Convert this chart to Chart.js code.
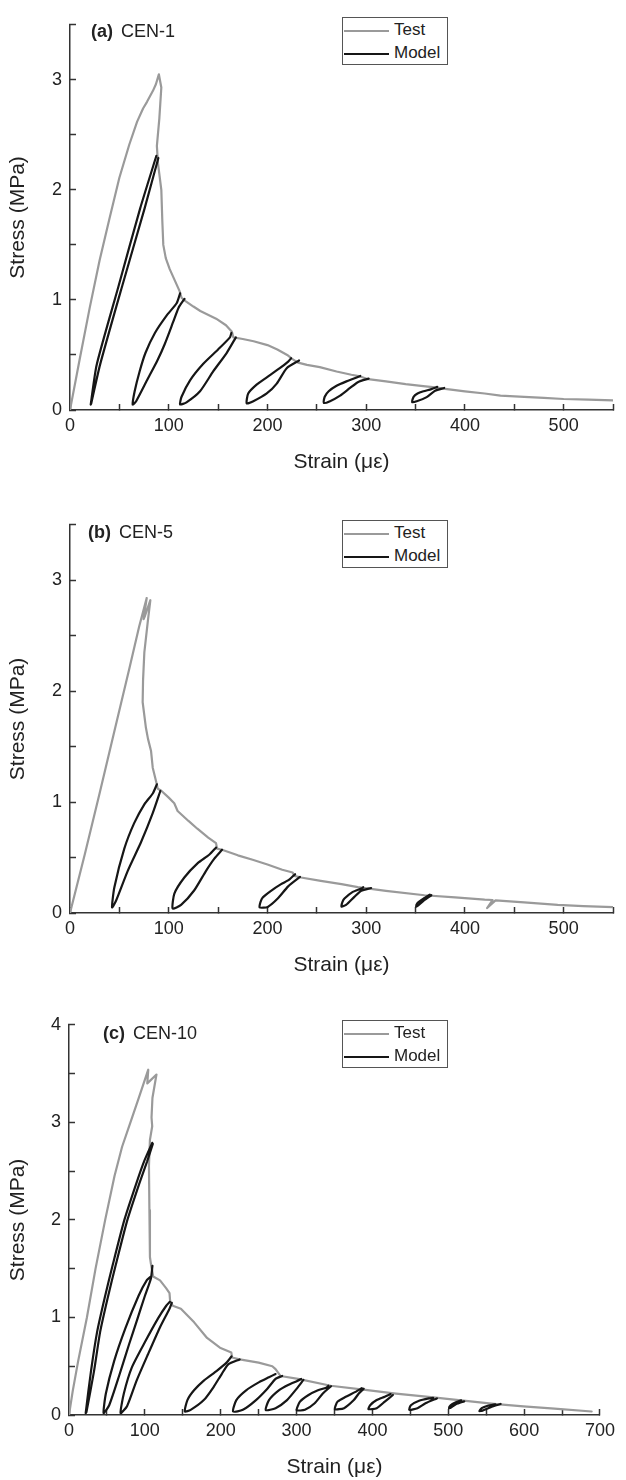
<!DOCTYPE html>
<html>
<head>
<meta charset="utf-8">
<script src="https://cdn.jsdelivr.net/npm/chart.js@4.4.1/dist/chart.umd.min.js"></script>
<style>
html,body{margin:0;padding:0;background:#fff;width:626px;height:1480px;overflow:hidden;font-family:"Liberation Sans",Arial,sans-serif;}
.panel{position:absolute;left:0;width:626px;}
.panel canvas{display:block;}
.lbl{position:absolute;font-size:18px;line-height:18px;color:#222;white-space:nowrap;}
.lbl b{font-weight:bold;}
.lbl span{margin-left:8px;}
.leg{position:absolute;width:104px;height:46px;border:1px solid #555;background:#fff;}
.leg .ln{position:absolute;left:1px;width:45px;height:2px;}
.leg .tx{position:absolute;left:51px;font-size:17px;line-height:20px;color:#222;white-space:nowrap;}
</style>
</head>
<body>
<script>
// ---------- names / ticks ----------
const seriesNames = ['Test', 'Model'];
const panelTags = ['(a)', '(b)', '(c)'];
const specimenNames = ['CEN-1', 'CEN-5', 'CEN-10'];
const xTitle = 'Strain (\u03bc\u03b5)';
const yTitle = 'Stress (MPa)';
const xTickLabelsAB = [0, 100, 200, 300, 400, 500];
const yTickLabelsAB = [0, 1, 2, 3];
const xTickLabelsC = [0, 100, 200, 300, 400, 500, 600, 700];
const yTickLabelsC = [0, 1, 2, 3, 4];

// ---------- panel (a) CEN-1 ----------
const testA = [[0,0],[10,0.47],[20,0.93],[30,1.36],[40,1.74],[50,2.11],[60,2.41],[68,2.62],[74,2.74],[78,2.80],[84,2.90],[87,2.96],[90,3.05],[92.5,2.93],[90.5,2.65],[88,2.40],[89,2.25],[92.5,2.0],[93.5,1.72],[94.5,1.50],[97,1.38],[101,1.28],[106,1.18],[111,1.08],[113,1.02],[117,0.99],[125,0.94],[132,0.90],[148,0.83],[158,0.77],[164,0.71],[165.5,0.66],[175,0.645],[186,0.625],[200,0.59],[210,0.55],[220,0.50],[225,0.465],[231,0.43],[240,0.41],[253,0.39],[270,0.35],[285,0.32],[294,0.305],[302,0.28],[320,0.26],[340,0.235],[360,0.215],[370,0.205],[378,0.195],[400,0.17],[420,0.15],[436,0.13],[460,0.12],[480,0.11],[500,0.10],[525,0.095],[550,0.087]];
const modelA1 = [[89.5,2.29],[75.5,1.83],[52,1.10],[30.4,0.41],[21.5,0.06],[21,0.05],[27,0.41],[49,1.12],[71,1.83],[87.5,2.31]];
const modelA2 = [[116,1.01],[110,0.93],[104.5,0.80],[96,0.60],[88.5,0.45],[78,0.27],[67,0.08],[63.5,0.05],[65.5,0.17],[70.5,0.35],[76.5,0.52],[86,0.70],[98,0.86],[108,0.97],[111.5,1.06]];
const modelA3 = [[168,0.66],[158.8,0.52],[145,0.35],[131.7,0.17],[118,0.07],[111.5,0.05],[113,0.12],[121.6,0.27],[135,0.42],[150,0.55],[162,0.66],[163.5,0.70]];
const modelA4 = [[232,0.45],[219.5,0.38],[209.4,0.24],[199.3,0.15],[185.7,0.08],[179,0.06],[180.5,0.15],[189,0.23],[199,0.295],[212.5,0.38],[221,0.44],[224,0.47]];
const modelA5 = [[302.5,0.285],[292,0.255],[283.7,0.20],[273.6,0.13],[263.4,0.08],[257,0.065],[258,0.12],[262,0.17],[270,0.22],[280,0.26],[289,0.29],[294,0.31]];
const modelA6 = [[379,0.20],[369.8,0.175],[361.3,0.117],[351.2,0.079],[346.5,0.072],[348,0.12],[352,0.15],[358,0.17],[366,0.19],[372,0.21]];

// ---------- panel (b) CEN-5 ----------
const testB = [[0,0],[15,0.53],[30,1.08],[45,1.64],[60,2.20],[70,2.58],[77.7,2.84],[74.6,2.65],[76,2.68],[81.4,2.82],[78.7,2.62],[75.3,2.35],[74,2.10],[73.6,1.90],[76.9,1.67],[79,1.57],[82.1,1.46],[83.8,1.31],[87.1,1.19],[88.9,1.12],[92.2,1.105],[100,1.04],[105.6,0.99],[109,0.92],[120,0.83],[129,0.76],[140,0.68],[147.9,0.63],[149,0.58],[154.7,0.568],[170,0.52],[185,0.48],[200,0.437],[215,0.39],[225.5,0.365],[227.2,0.335],[234,0.32],[254,0.29],[275,0.26],[291.5,0.233],[320,0.20],[359,0.16],[390,0.14],[420,0.12],[428,0.117],[422.5,0.045],[431,0.114],[460,0.095],[494,0.073],[520,0.062],[551,0.052]];
const modelB1 = [[91.5,1.10],[83.8,0.90],[72,0.64],[58.5,0.38],[46.6,0.11],[42.6,0.05],[44.9,0.23],[55,0.58],[65,0.81],[75.3,0.98],[84,1.08],[88,1.16]];
const modelB2 = [[154,0.57],[146.2,0.49],[137.8,0.38],[125.9,0.205],[112.5,0.073],[104,0.04],[105.7,0.175],[115.8,0.32],[129.4,0.45],[141,0.525],[148,0.59]];
const modelB3 = [[233,0.325],[221,0.24],[210.4,0.13],[200.3,0.055],[192,0.05],[193,0.10],[195.2,0.14],[203.6,0.20],[213.8,0.26],[222,0.30],[228,0.35]];
const modelB4 = [[305,0.225],[295,0.20],[288,0.145],[279.6,0.073],[275,0.058],[276,0.10],[278,0.13],[286.4,0.19],[294.8,0.22],[297,0.232]];
const modelB5 = [[366,0.16],[358,0.11],[352,0.065],[350.6,0.058],[352,0.09],[358,0.13],[364.5,0.165]];

// ---------- panel (c) CEN-10 ----------
const testC = [[0,0],[5,0.25],[12,0.55],[23.6,1.0],[35,1.5],[47.7,2.0],[60,2.45],[70,2.75],[81,3.0],[92,3.25],[104.5,3.54],[103.2,3.40],[106,3.42],[115.3,3.49],[110,3.25],[108.8,3.05],[109.7,2.96],[106.7,2.82],[105.4,2.55],[106,2.1],[106.7,1.62],[108,1.55],[111,1.42],[120,1.38],[128,1.30],[132.5,1.25],[133.3,1.17],[136.8,1.12],[147.5,1.09],[165,0.95],[182,0.79],[199,0.69],[214,0.64],[215,0.59],[225,0.57],[250,0.537],[268,0.50],[272.3,0.47],[278.8,0.40],[302,0.37],[345,0.30],[388,0.26],[431,0.22],[474,0.186],[517,0.15],[560,0.115],[599,0.088],[640,0.065],[689,0.036]];
const modelC1 = [[110.5,2.78],[103,2.6],[93,2.38],[77,2.0],[62,1.55],[51,1.2],[41,0.85],[33,0.45],[23,0.03],[22,0.02],[29,0.45],[37,0.85],[47,1.2],[58,1.55],[73,2.0],[89,2.38],[99,2.6],[109.7,2.79]];
const modelC2 = [[110,1.53],[108,1.40],[100,1.22],[90,0.98],[79,0.72],[66,0.40],[53,0.10],[45.6,0.02],[48.6,0.22],[59.4,0.55],[74.4,0.89],[91.6,1.22],[102.4,1.38],[108,1.42]];
const modelC3 = [[135.5,1.15],[132.5,1.09],[120,0.90],[104,0.62],[89,0.35],[76.5,0.09],[68,0.02],[72.3,0.22],[83,0.49],[100.3,0.75],[117.4,0.99],[128.2,1.12],[133,1.16]];
const modelC4 = [[225,0.57],[210,0.52],[201.3,0.42],[190.6,0.287],[177.7,0.153],[160.4,0.053],[152.7,0.036],[156.1,0.153],[164.8,0.253],[177.7,0.353],[194.8,0.453],[207.7,0.537],[214.2,0.60]];
const modelC5 = [[281,0.40],[272.3,0.37],[261.5,0.27],[246.5,0.153],[229.2,0.053],[216.3,0.036],[220.6,0.153],[233.5,0.253],[250.7,0.337],[263.6,0.387],[272.3,0.42]];
const modelC6 = [[309,0.36],[300.2,0.27],[287.4,0.153],[272.3,0.07],[259.4,0.05],[263.6,0.153],[276.6,0.253],[289.5,0.31],[300.2,0.347],[306,0.37]];
const modelC7 = [[345.4,0.295],[334.6,0.22],[323.9,0.12],[311,0.053],[300.2,0.05],[304.5,0.137],[315.3,0.203],[328.2,0.253],[339,0.28],[342,0.30]];
const modelC8 = [[388.5,0.27],[382,0.22],[375.5,0.153],[362.6,0.07],[350.5,0.06],[354,0.137],[364.8,0.187],[377.7,0.237],[386,0.275]];
const modelC9 = [[427,0.205],[416.3,0.137],[405.6,0.07],[394.8,0.06],[397,0.10],[405.6,0.153],[416.3,0.187],[424,0.215]];
const modelC10 = [[485,0.17],[470,0.12],[459.4,0.07],[448.6,0.053],[450.7,0.10],[461.5,0.146],[474.4,0.17],[480,0.175]];
const modelC11 = [[521,0.14],[510,0.11],[503,0.075],[501,0.07],[503,0.10],[510,0.13],[517,0.15]];
const modelC12 = [[569,0.113],[556,0.08],[545,0.045],[541,0.04],[544,0.07],[552,0.095],[562,0.11]];

// ---------- styling ----------
const FONT = "'Liberation Sans', Arial, sans-serif";
const testColor = '#9a9a9a';
const modelColor = '#161616';
const axisColor = '#333333';
const textColor = '#222222';

function pts(arr) { return arr.map(p => ({x: p[0], y: p[1]})); }

function buildDatasets(test, loops) {
  const ds = [{label: seriesNames[0], data: pts(test), borderColor: testColor, borderWidth: 2.2, tension: 0, order: 2}];
  loops.forEach(l => ds.push({label: seriesNames[1], data: pts(l), borderColor: modelColor, borderWidth: 2.2, tension: 0.2, order: 1}));
  return ds;
}

function axisCommon(labels, step, isX) {
  return {
    type: 'linear',
    ticks: {
      stepSize: step, autoSkip: false, maxRotation: 0, minRotation: 0,
      padding: isX ? 11 : 14, color: textColor, font: {family: FONT, size: 18},
      callback: (v) => labels.some(l => Math.abs(l - v) < 1e-9) ? String(v) : ''
    },
    grid: {display: true, drawOnChartArea: false, drawTicks: true, tickLength: -6, tickColor: axisColor, tickWidth: 1.5},
    border: {display: true, color: axisColor, width: 1.5},
    title: {display: true, text: isX ? xTitle : yTitle, color: textColor, font: {family: FONT, size: 21},
            padding: isX ? {top: 0, bottom: 0} : {top: 6, bottom: 0}}
  };
}

function makePanel(idx, top, height, padTop, padBottom, yAxisWidth, test, loops, xMax, yMax, xLabels, yLabels, labelPos, legendTop) {
  const div = document.createElement('div');
  div.className = 'panel';
  div.style.top = top + 'px';
  div.style.height = height + 'px';
  const cv = document.createElement('canvas');
  cv.width = 626; cv.height = height;
  cv.style.width = '626px'; cv.style.height = height + 'px';
  div.appendChild(cv);
  document.body.appendChild(div);

  const xs = axisCommon(xLabels, 50, true);
  xs.min = 0; xs.max = xMax;
  xs.afterFit = (s) => { s.height = 65; };
  const ys = axisCommon(yLabels, 0.5, false);
  ys.min = 0; ys.max = yMax;
  ys.afterFit = (s) => { s.width = yAxisWidth; };

  new Chart(cv.getContext('2d'), {
    type: 'scatter',
    data: {datasets: buildDatasets(test, loops)},
    options: {
      responsive: false, animation: false, devicePixelRatio: 1,
      showLine: true,
      elements: {point: {radius: 0, hoverRadius: 0}, line: {borderCapStyle: 'round', borderJoinStyle: 'round'}},
      layout: {padding: {top: padTop, right: 13, bottom: padBottom, left: 0}},
      plugins: {legend: {display: false}, tooltip: {enabled: false}, title: {display: false}},
      scales: {x: xs, y: ys}
    }
  });

  // panel label
  const lb = document.createElement('div');
  lb.className = 'lbl';
  lb.style.left = labelPos[0] + 'px';
  lb.style.top = labelPos[1] + 'px';
  const b = document.createElement('b'); b.textContent = panelTags[idx];
  const sp = document.createElement('span'); sp.textContent = specimenNames[idx];
  lb.appendChild(b); lb.appendChild(sp);
  document.body.appendChild(lb);

  // legend
  const lg = document.createElement('div');
  lg.className = 'leg';
  lg.style.left = '342px';
  lg.style.top = legendTop + 'px';
  [testColor, modelColor].forEach((c, i) => {
    const ln = document.createElement('div');
    ln.className = 'ln';
    ln.style.top = (12 + 23 * i) + 'px';
    ln.style.background = c;
    const tx = document.createElement('div');
    tx.className = 'tx';
    tx.style.top = (2 + 23 * i) + 'px';
    tx.textContent = seriesNames[i];
    lg.appendChild(ln); lg.appendChild(tx);
  });
  document.body.appendChild(lg);
}

makePanel(0, 0, 480, 9, 5, 70, testA, [modelA1, modelA2, modelA3, modelA4, modelA5, modelA6], 550, 3.5, xTickLabelsAB, yTickLabelsAB, [91, 22], 17);
makePanel(1, 500, 480, 13, 2, 70, testB, [modelB1, modelB2, modelB3, modelB4, modelB5], 550, 3.5, xTickLabelsAB, yTickLabelsAB, [88, 523], 520);
makePanel(2, 1000, 480, 15, 0, 69, testC, [modelC1, modelC2, modelC3, modelC4, modelC5, modelC6, modelC7, modelC8, modelC9, modelC10, modelC11, modelC12], 700, 4, xTickLabelsC, yTickLabelsC, [103, 1024], 1020);
</script>
</body>
</html>
